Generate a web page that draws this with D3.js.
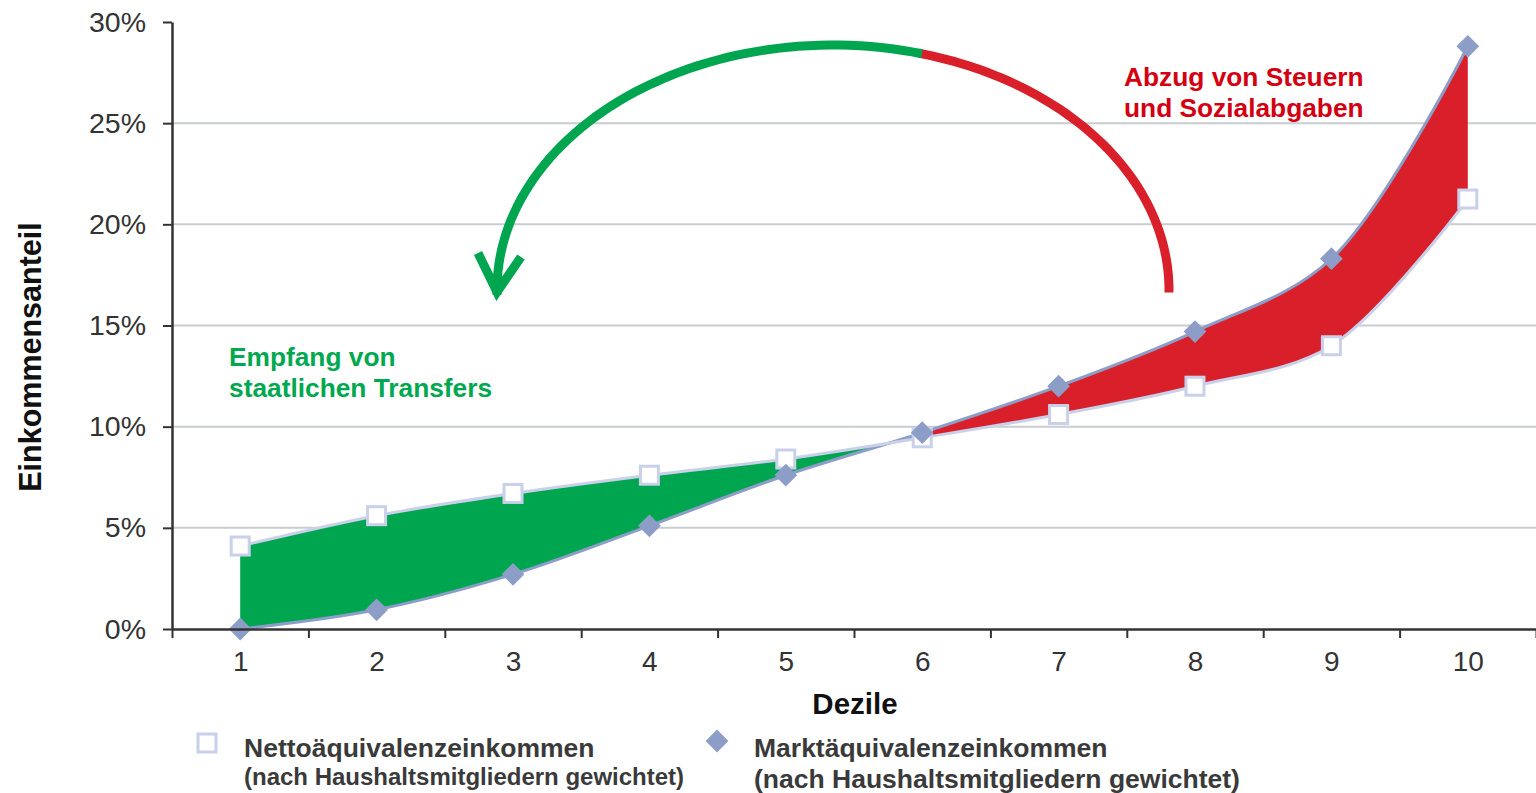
<!DOCTYPE html>
<html>
<head>
<meta charset="utf-8">
<script src="https://cdn.jsdelivr.net/npm/d3@7"></script>
<style>
  html, body { margin: 0; padding: 0; background: #fff; }
  svg { display: block; font-family: "Liberation Sans", Arial, sans-serif; }
</style>
</head>
<body>
<div id="chart"></div>
<script>
// deciles and income shares (% of total)
const deciles = [1, 2, 3, 4, 5, 6, 7, 8, 9, 10];
const netto = [4.1, 5.6, 6.7, 7.6, 8.4, 9.45, 10.6, 12.0, 14.0, 21.25];
const markt = [0.0, 0.95, 2.7, 5.1, 7.6, 9.7, 12.0, 14.7, 18.3, 28.8];
const yTicks = [0, 5, 10, 15, 20, 25, 30];
const gridTicks = [5, 10, 15, 20, 25];

const W = 1536, H = 793;
const GREEN = '#00a54f', RED = '#d91f2a';
const NET_COL = '#c8d0ea', MKT_COL = '#8c9ec8';

const svg = d3.select('#chart').append('svg')
  .attr('width', W).attr('height', H);

const x = d3.scaleLinear().domain([0.5, 10.5]).range([172, 1536]);
const y = d3.scaleLinear().domain([0, 30]).range([629, 22]);

// gridlines
svg.append('g').selectAll('line').data(gridTicks)
  .join('line')
  .attr('x1', x(0.5)).attr('x2', x(10.5))
  .attr('y1', d => y(d)).attr('y2', d => y(d))
  .attr('stroke', '#c9ccd1').attr('stroke-width', 2);

// area between the two curves, split at decile 6
const rows = deciles.map((d, i) => ({ d, n: netto[i], m: markt[i] }));
const curve = d3.curveCatmullRom.alpha(0.5);
const area = d3.area()
  .x(r => x(r.d)).y0(r => y(r.n)).y1(r => y(r.m))
  .curve(curve);

const defs = svg.append('defs');
defs.append('clipPath').attr('id', 'clipL').append('rect')
  .attr('x', 0).attr('y', 0).attr('width', x(6)).attr('height', H);
defs.append('clipPath').attr('id', 'clipR').append('rect')
  .attr('x', x(6)).attr('y', 0).attr('width', W - x(6)).attr('height', H);

svg.append('path').datum(rows)
  .attr('d', area).attr('fill', GREEN).attr('clip-path', 'url(#clipL)');
svg.append('path').datum(rows)
  .attr('d', area).attr('fill', RED).attr('clip-path', 'url(#clipR)');

// lines
const lineN = d3.line().x(r => x(r.d)).y(r => y(r.n)).curve(curve);
const lineM = d3.line().x(r => x(r.d)).y(r => y(r.m)).curve(curve);
svg.append('path').datum(rows).attr('d', lineM)
  .attr('fill', 'none').attr('stroke', MKT_COL).attr('stroke-width', 3);
svg.append('path').datum(rows).attr('d', lineN)
  .attr('fill', 'none').attr('stroke', NET_COL).attr('stroke-width', 3);

// markers
const sq = 18;
svg.append('g').selectAll('rect').data(rows)
  .join('rect')
  .attr('x', r => x(r.d) - sq / 2).attr('y', r => y(r.n) - sq / 2)
  .attr('width', sq).attr('height', sq)
  .attr('fill', '#fff').attr('stroke', NET_COL).attr('stroke-width', 3);

const diamond = d3.symbol().type(d3.symbolDiamond2).size(330);
svg.append('g').selectAll('path').data(rows)
  .join('path')
  .attr('transform', r => `translate(${x(r.d)},${y(r.m)})`)
  .attr('d', diamond)
  .attr('fill', MKT_COL);

// axes
const xAxis = svg.append('g').attr('transform', `translate(0,${y(0)})`)
  .call(d3.axisBottom(x).tickValues(d3.range(0.5, 11, 1)).tickFormat('').tickSize(9).tickSizeOuter(0));
xAxis.select('.domain').attr('stroke', '#333').attr('stroke-width', 2.5);
xAxis.selectAll('.tick line').attr('stroke', '#333').attr('stroke-width', 2);

const xLabels = svg.append('g').attr('transform', `translate(0,${y(0)})`)
  .call(d3.axisBottom(x).tickValues(deciles).tickSize(0).tickPadding(22));
xLabels.select('.domain').remove();
xLabels.selectAll('text')
  .attr('font-size', 28).attr('fill', '#333')
  .attr('font-family', '"Liberation Sans", Arial, sans-serif');

const yAxis = svg.append('g').attr('transform', `translate(${x(0.5)},0)`)
  .call(d3.axisLeft(y).tickValues(yTicks).tickFormat(d => d + '%').tickSize(9).tickPadding(17).tickSizeOuter(0));
yAxis.select('.domain').attr('stroke', '#333').attr('stroke-width', 2.5);
yAxis.selectAll('.tick line').attr('stroke', '#333').attr('stroke-width', 2);
yAxis.selectAll('text')
  .attr('font-size', 28.5).attr('fill', '#333')
  .attr('font-family', '"Liberation Sans", Arial, sans-serif');

// axis titles
svg.append('text')
  .attr('transform', 'translate(41,357) rotate(-90)')
  .attr('text-anchor', 'middle')
  .attr('font-size', 30.5).attr('font-weight', 700).attr('fill', '#111')
  .text('Einkommensanteil');
svg.append('text')
  .attr('x', 855).attr('y', 714)
  .attr('text-anchor', 'middle')
  .attr('font-size', 29.5).attr('font-weight', 700).attr('fill', '#111')
  .text('Dezile');

// redistribution arrow: half ellipse, red part on the right, green on the left
const cx = 833, cy = 290, rx = 336, ry = 245;
const split = Math.acos((922 - cx) / rx);
const arcPts = (a0, a1) => d3.range(0, 61).map(i => {
  const t = a0 + (a1 - a0) * i / 60;
  return [cx + rx * Math.cos(t), cy - ry * Math.sin(t)];
});
const arcLine = d3.line();
svg.append('path')
  .attr('d', arcLine(arcPts(-0.01, split + 0.01)))
  .attr('fill', 'none').attr('stroke', RED).attr('stroke-width', 9);
svg.append('path')
  .attr('d', arcLine(arcPts(split, Math.PI + 0.02)))
  .attr('fill', 'none').attr('stroke', GREEN).attr('stroke-width', 9);
svg.append('path')
  .attr('d', arcLine([[478, 253], [497, 292], [521, 257]]))
  .attr('fill', 'none').attr('stroke', GREEN).attr('stroke-width', 9)
  .attr('stroke-linejoin', 'miter').attr('stroke-miterlimit', 10);

// annotations
const note = (lines, xPos, y0, color) => {
  svg.append('g').selectAll('text').data(lines)
    .join('text')
    .attr('x', xPos).attr('y', (d, i) => y0 + i * 31)
    .attr('font-size', 26.3).attr('font-weight', 700).attr('fill', color)
    .text(d => d);
};
note(['Empfang von', 'staatlichen Transfers'], 229, 366, '#00a84f');
note(['Abzug von Steuern', 'und Sozialabgaben'], 1124, 86, '#d40012');

// legend
svg.append('rect')
  .attr('x', 198).attr('y', 734).attr('width', sq).attr('height', sq)
  .attr('fill', '#fff').attr('stroke', NET_COL).attr('stroke-width', 3);
svg.append('path')
  .attr('transform', 'translate(717,741)')
  .attr('d', diamond).attr('fill', MKT_COL);

const legendText = [
  { x: 244, y: 757, size: 26.5, t: 'Nettoäquivalenzeinkommen' },
  { x: 244, y: 785, size: 24, t: '(nach Haushaltsmitgliedern gewichtet)' },
  { x: 754, y: 757, size: 26.5, t: 'Marktäquivalenzeinkommen' },
  { x: 754, y: 788, size: 26.5, t: '(nach Haushaltsmitgliedern gewichtet)' }
];
svg.append('g').selectAll('text').data(legendText)
  .join('text')
  .attr('x', d => d.x).attr('y', d => d.y)
  .attr('font-size', d => d.size).attr('font-weight', 700).attr('fill', '#3a3a3a')
  .text(d => d.t);
</script>
</body>
</html>
